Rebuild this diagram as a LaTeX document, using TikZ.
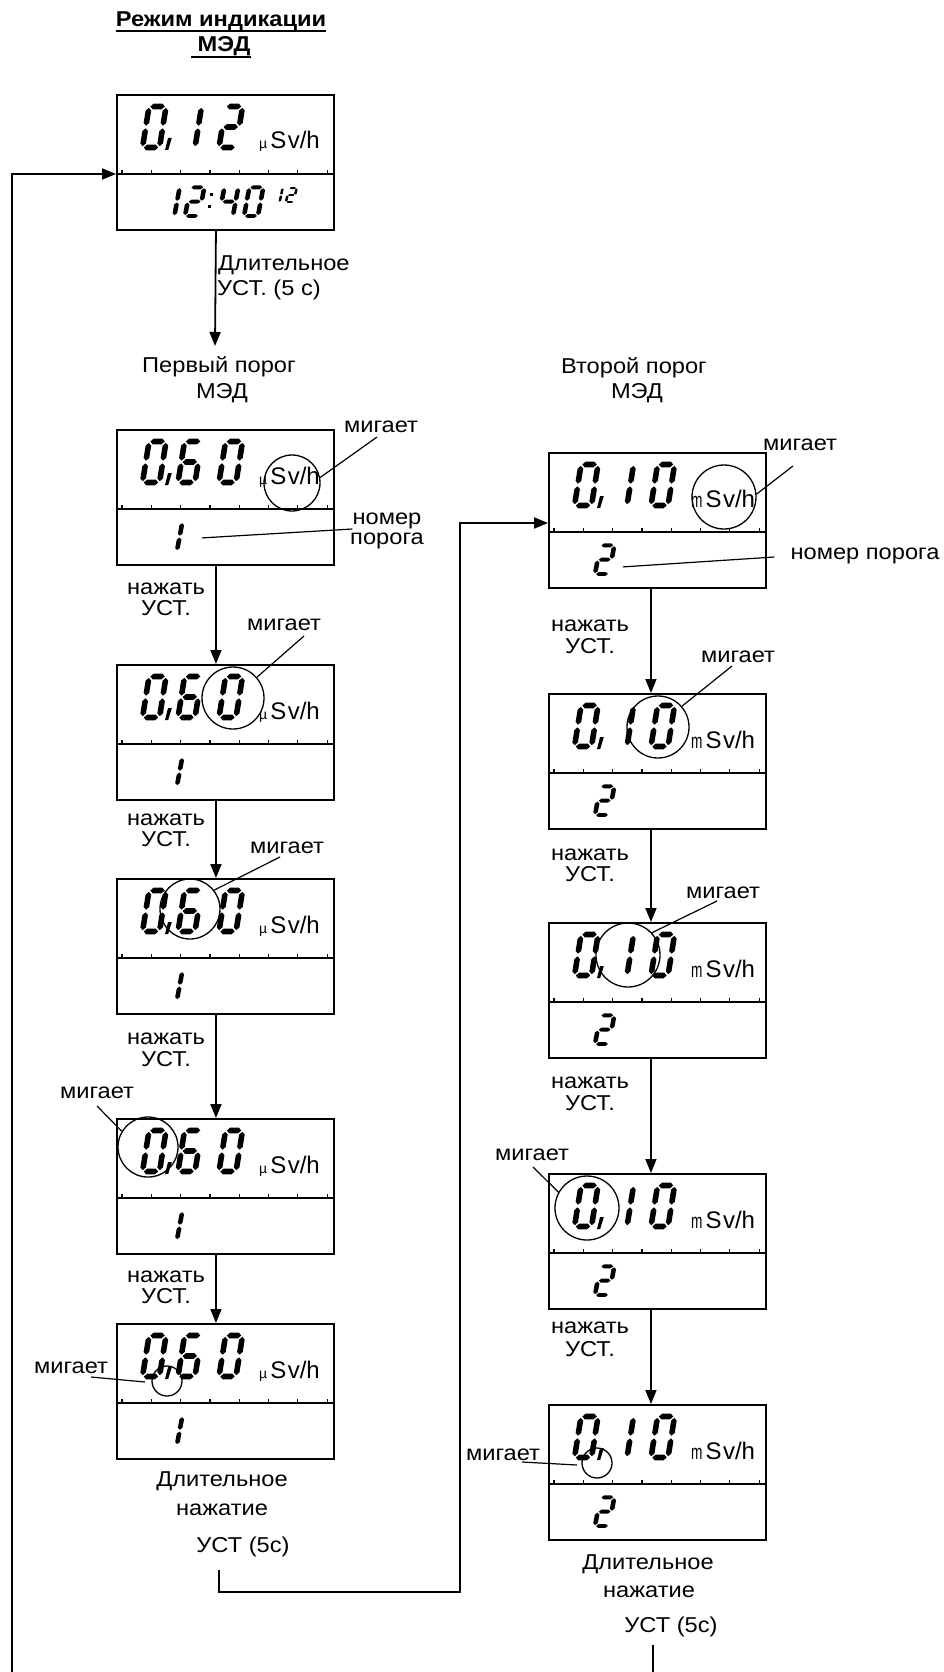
\documentclass[tikz,border=0pt]{standalone}
\usepackage{fontspec}
\setmainfont{Liberation Sans}
\newfontfamily\lblfont[FakeStretch=1.1]{Liberation Sans}
\newfontfamily\narrowfont[FakeStretch=0.65]{Liberation Sans}
\usetikzlibrary{arrows.meta,calc}
\def\dW{17}\def\dH{41}\def\dT{5.6}\def\dG{1.3}
\newcommand\hs[3]{\fill (#1,#3) -- (#1+\dT/2,#3-\dT/2) -- (#2-\dT/2,#3-\dT/2) -- (#2,#3) -- (#2-\dT/2,#3+\dT/2) -- (#1+\dT/2,#3+\dT/2) -- cycle;}
\newcommand\vs[3]{\fill (#1,#2) -- (#1+\dT/2,#2-\dT/2) -- (#1+\dT/2,#3+\dT/2) -- (#1,#3) -- (#1-\dT/2,#3+\dT/2) -- (#1-\dT/2,#2-\dT/2) -- cycle;}
\def\segA{\hs{\dG}{\dW-\dG}{-\dH}}
\def\segB{\vs{\dW}{-\dH/2-\dG}{-\dH+\dG}}
\def\segC{\vs{\dW}{-\dG}{-\dH/2+\dG}}
\def\segD{\hs{\dG}{\dW-\dG}{0}}
\def\segE{\vs{0}{-\dG}{-\dH/2+\dG}}
\def\segF{\vs{0}{-\dH/2-\dG}{-\dH+\dG}}
\def\segG{\hs{\dG}{\dW-\dG}{-\dH/2}}
\newcommand\digit[5]{\begin{scope}[shift={(#1,#2)},xscale=#3,yscale=#4,xslant=0.16]\foreach \s in {#5}{\csname seg\s\endcsname}\end{scope}}
\newcommand\bigcomma[2]{\fill (#1,#2) -- ++(3.8,0) -- ++(-3.6,12) -- ++(-3.2,0) -- cycle;}
\newcommand\lcd[3]{%
  \node[lcdbox] (#1) at (#2,#3) {};
  \coordinate (#1-div) at (#2,#3+80);
  \draw[divline] (#1-div) -- ++(217,0);
  \foreach \i in {0,...,7}{\draw[tick] ($(#1-div)+(6+29.3*\i,0)$) -- ++(0,-4);}
}
\newcommand\thrbox[7]{%
  \lcd{#1}{#2}{#3}
  \digit{#2+26.5}{#3+53.5}{1}{1}{A,B,C,D,E,F}
  \bigcomma{#2+52}{#3+44}
  \digit{#2+62}{#3+53.5}{1}{1}{#4}
  \digit{#2+103}{#3+53.5}{1}{1}{#5}
  \node[unit] (#1-u) at (#2+143,#3+55) {#6};
  \digit{#2+47}{#3+122}{0.82}{0.7}{#7}
}
\newcommand\uS{{\fontsize{24}{24}\selectfont S\hspace{1.5pt}v/h}}
\newcommand\umu{{\fontsize{14}{14}\selectfont µ}\hspace{3pt}\uS}
\newcommand\umS{{\narrowfont\fontsize{21}{21}\selectfont m}\hspace{3pt}\uS}
\begin{document}
\begin{tikzpicture}[x=1pt,y=-1pt,
  lbl/.style={font=\lblfont\fontsize{21.5}{24}\selectfont, inner sep=0pt, anchor=base},
  ttl/.style={font=\lblfont\bfseries\fontsize{21.5}{24}\selectfont, inner sep=0pt, anchor=base},
  lcdbox/.style={draw, line width=1.9pt, minimum width=217pt, minimum height=135pt, inner sep=0pt, anchor=north west},
  divline/.style={line width=1.9pt},
  tick/.style={line width=1.2pt},
  arr/.style={line width=1.8pt, -{Triangle[length=14pt,width=11pt]}},
  conn/.style={line width=1.8pt},
  circ/.style={circle, draw, line width=1.3pt, inner sep=0pt, minimum size=#1},
  lead/.style={line width=1.2pt},
  unit/.style={anchor=base west, inner sep=0pt}]
\useasboundingbox (0,0) rectangle (944,1672);

% title
\node[ttl] (t1) at (221,27) {Режим индикации};
\node[ttl] (t2) at (224,52) {МЭД};
\draw[line width=1.4pt] ([yshift=-4pt]t1.base west) -- ([yshift=-4pt]t1.base east);
\draw[line width=1.4pt] ([xshift=-6pt,yshift=-5pt]t2.base west) -- ([yshift=-5pt]t2.base east);

% first box
\lcd{L1}{116}{94}
\digit{142.5}{147.5}{1}{1}{A,B,C,D,E,F}
\bigcomma{168}{138}
\digit{178}{147.5}{1}{1}{B,C}
\digit{219}{147.5}{1}{1}{A,B,G,E,D}
\node[unit] (L1-u) at (259,149) {\umu};
\digit{160.4}{216}{0.82}{0.7}{B,C}
\digit{185}{216}{0.82}{0.7}{A,B,G,E,D}
\fill (210,193) rectangle ++(3,3);
\fill (208,205) rectangle ++(3,3);
\digit{219}{216}{0.82}{0.7}{F,G,B,C}
\digit{244}{216}{0.82}{0.7}{A,B,C,D,E,F}
\digit{272}{202}{0.45}{0.34}{B,C}
\digit{286}{202}{0.45}{0.34}{A,B,G,E,D}

\coordinate (a1) at (215,346);
\draw[arr] ([xshift=-9.5pt]L1.south) -- (a1);
\node[lbl, anchor=base west] (dl1) at (218,270) {Длительное};
\node[lbl, anchor=base west] (dl2) at (217,295) {УСТ. (5 с)};
\node[lbl] (p1a) at (219,372) {Первый порог};
\node[lbl] (p1b) at (222,398) {МЭД};
\node[lbl] (p2a) at (634,373) {Второй порог};
\node[lbl] (p2b) at (637,398) {МЭД};

% left column
\thrbox{L2}{116}{429}{A,F,G,E,D,C}{A,B,C,D,E,F}{\umu}{B,C}
\thrbox{L3}{116}{664}{A,F,G,E,D,C}{A,B,C,D,E,F}{\umu}{B,C}
\thrbox{L4}{116}{878}{A,F,G,E,D,C}{A,B,C,D,E,F}{\umu}{B,C}
\thrbox{L5}{116}{1118}{A,F,G,E,D,C}{A,B,C,D,E,F}{\umu}{B,C}
\thrbox{L6}{116}{1323}{A,F,G,E,D,C}{A,B,C,D,E,F}{\umu}{B,C}
% right column
\thrbox{R1}{548}{452}{B,C}{A,B,C,D,E,F}{\umS}{A,B,G,E,D}
\thrbox{R2}{548}{693}{B,C}{A,B,C,D,E,F}{\umS}{A,B,G,E,D}
\thrbox{R3}{548}{922}{B,C}{A,B,C,D,E,F}{\umS}{A,B,G,E,D}
\thrbox{R4}{548}{1173}{B,C}{A,B,C,D,E,F}{\umS}{A,B,G,E,D}
\thrbox{R5}{548}{1404}{B,C}{A,B,C,D,E,F}{\umS}{A,B,G,E,D}

% arrows
\draw[arr] ([xshift=-9.5pt]L2.south) -- ([xshift=-9.5pt]L3.north);
\draw[arr] ([xshift=-9.5pt]L3.south) -- ([xshift=-9.5pt]L4.north);
\draw[arr] ([xshift=-9.5pt]L4.south) -- ([xshift=-9.5pt]L5.north);
\draw[arr] ([xshift=-9.5pt]L5.south) -- ([xshift=-9.5pt]L6.north);
\draw[arr] ([xshift=-6.5pt]R1.south) -- ([xshift=-6.5pt]R2.north);
\draw[arr] ([xshift=-6.5pt]R2.south) -- ([xshift=-6.5pt]R3.north);
\draw[arr] ([xshift=-6.5pt]R3.south) -- ([xshift=-6.5pt]R4.north);
\draw[arr] ([xshift=-6.5pt]R4.south) -- ([xshift=-6.5pt]R5.north);

\coordinate (lb) at (12,1672);
\draw[arr] (lb) |- (L1-div);
\coordinate (b1) at (219,1570);
\coordinate (b2) at (460,1592);
\coordinate (r1in) at (548,523);
\draw[arr] (b1) |- (b2) |- (r1in);
\coordinate (e1) at (653,1645);
\coordinate (e2) at (653,1672);
\draw[conn] (e1) -- (e2);

% press labels
\node[lbl] (nL2a) at (166,594) {нажать};
\node[lbl] (nL2b) at (166,615) {УСТ.};
\node[lbl] (nL3a) at (166,825) {нажать};
\node[lbl] (nL3b) at (166,846) {УСТ.};
\node[lbl] (nL4a) at (166,1044) {нажать};
\node[lbl] (nL4b) at (166,1066) {УСТ.};
\node[lbl] (nL5a) at (166,1282) {нажать};
\node[lbl] (nL5b) at (166,1303) {УСТ.};
\node[lbl] (nR1a) at (590,631) {нажать};
\node[lbl] (nR1b) at (590,653) {УСТ.};
\node[lbl] (nR2a) at (590,860) {нажать};
\node[lbl] (nR2b) at (590,881) {УСТ.};
\node[lbl] (nR3a) at (590,1088) {нажать};
\node[lbl] (nR3b) at (590,1110) {УСТ.};
\node[lbl] (nR4a) at (590,1333) {нажать};
\node[lbl] (nR4b) at (590,1356) {УСТ.};

% final labels
\node[lbl] (fL1a) at (222,1486) {Длительное};
\node[lbl] (fL1b) at (222,1515) {нажатие};
\node[lbl] (fL1c) at (243,1552) {УСТ (5с)};
\node[lbl] (fR1a) at (648,1569) {Длительное};
\node[lbl] (fR1b) at (649,1597) {нажатие};
\node[lbl] (fR1c) at (671,1632) {УСТ (5с)};

% threshold number labels
\node[lbl] (nomL2a) at (387,524) {номер};
\node[lbl] (nomL2b) at (387,544) {порога};
\draw[lead] ($(L2.south west)+(86,-28)$) -- ($(nomL2a.base west)+(0,5)$);
\node[lbl] (nomR1) at (865,559) {номер порога};
\draw[lead] ($(R1.south west)+(75,-22)$) -- ($(nomR1.base west)+(-16,-2)$);

% blinking markers
\node[circ=56pt] (ciL2) at (292,483) {};
\node[circ=62pt] (ciL3) at (233,698) {};
\node[circ=60pt] (ciL4) at (190,909) {};
\node[circ=60pt] (ciL5) at (148,1147) {};
\node[circ=30pt] (ciL6) at (167,1381) {};
\node[circ=64pt] (ciR1) at (724,497) {};
\node[circ=62pt] (ciR2) at (658,727) {};
\node[circ=64pt] (ciR3) at (628,955) {};
\node[circ=64pt] (ciR4) at (587,1208) {};
\node[circ=30pt] (ciR5) at (597,1463) {};

\node[lbl] (mL2) at (381,432) {мигает};
\node[lbl] (mL3) at (284,630) {мигает};
\node[lbl] (mL4) at (287,853) {мигает};
\node[lbl] (mL5) at (97,1098) {мигает};
\node[lbl] (mL6) at (71,1373) {мигает};
\node[lbl] (mR1) at (800,450) {мигает};
\node[lbl] (mR2) at (738,662) {мигает};
\node[lbl] (mR3) at (723,898) {мигает};
\node[lbl] (mR4) at (532,1160) {мигает};
\node[lbl] (mR5) at (503,1460) {мигает};

\draw[lead] (ciL2.11) -- ($(mL2.base)+(-4,5)$);
\draw[lead] (ciL3.41) -- ($(mL3.base)+(20,6)$);
\draw[lead] (ciL4.38) -- ($(mL4.base)+(-7,4)$);
\draw[lead] (ciL5.149) -- ($(mL5.base)+(0,8)$);
\draw[lead] ($(mL6.base)+(20,4)$) -- ($(ciL6.center)+(-22,1)$);
\draw[lead] (ciR1.5) -- ($(mR1.base)+(-7,16)$);
\draw[lead] (ciR2.41) -- ($(mR2.base)+(-6,4)$);
\draw[lead] (ciR3.43) -- ($(mR3.base)+(-6,3)$);
\draw[lead] (ciR4.151) -- ($(mR4.base)+(1,7)$);
\draw[lead] ($(mR5.base)+(19,2)$) -- ($(ciR5.center)+(-20,2)$);
\end{tikzpicture}
\end{document}
